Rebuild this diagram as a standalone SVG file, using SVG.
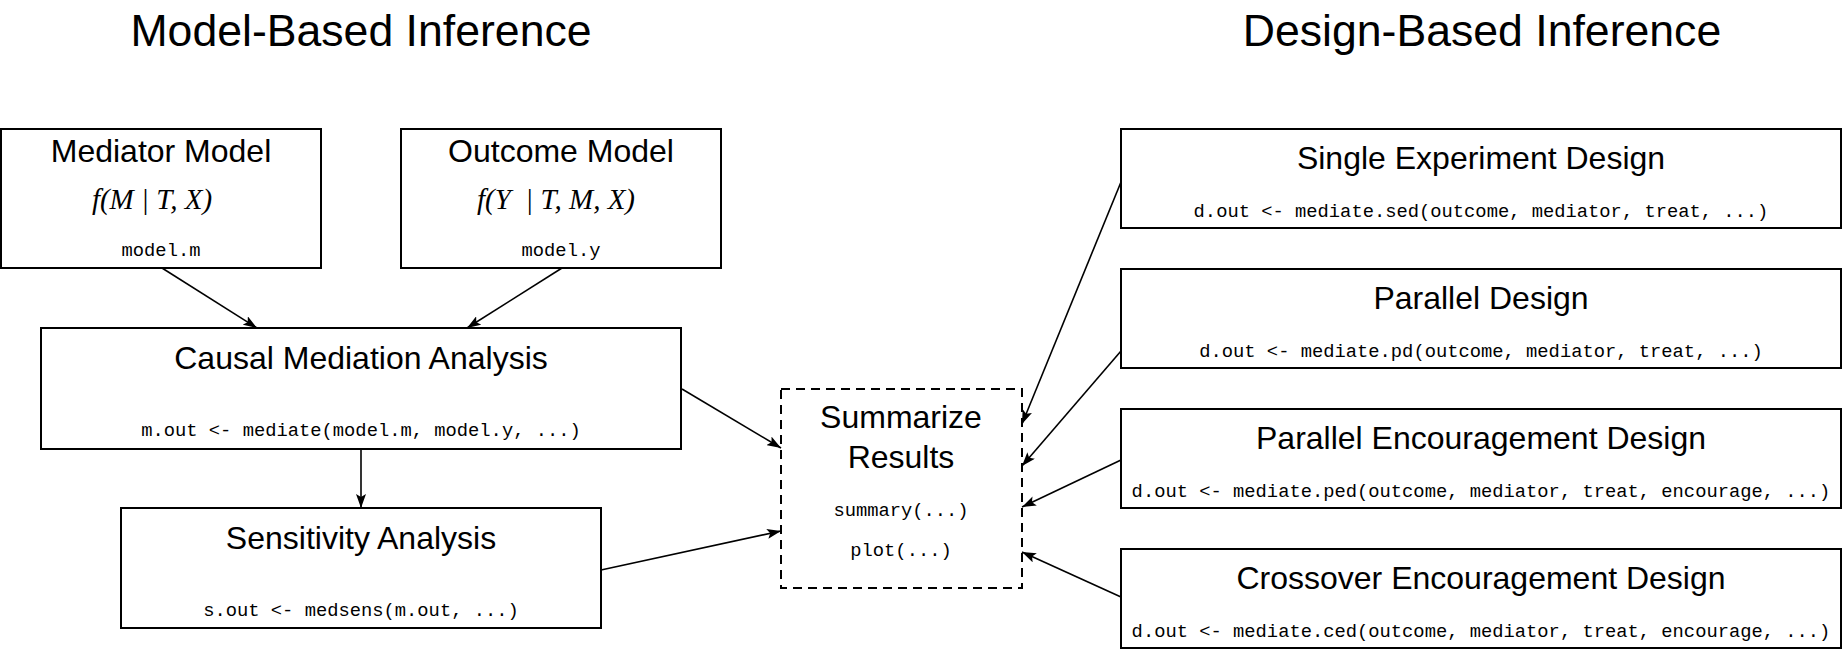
<svg xmlns="http://www.w3.org/2000/svg" width="1844" height="652" viewBox="0 0 1844 652">
<style>
.box{fill:#fff;stroke:#000;stroke-width:2}
.dash{fill:#fff;stroke:#000;stroke-width:2;stroke-dasharray:9,6}
.title{font-family:"Liberation Sans",Arial,sans-serif;font-size:44.6px;text-anchor:middle;fill:#000}
.h{font-family:"Liberation Sans",Arial,sans-serif;font-size:32px;text-anchor:middle;fill:#000}
.code{font-family:"Liberation Mono","DejaVu Sans Mono",monospace;font-size:18.8px;text-anchor:middle;fill:#000}
.math{font-family:"Liberation Serif","Times New Roman",serif;font-style:italic;font-size:29px;text-anchor:middle;fill:#000;white-space:pre}
.conn line{stroke:#000;stroke-width:1.6;marker-end:url(#ah)}
</style>
<defs>
<marker id="ah" viewBox="0 0 14 10" refX="14" refY="5" markerWidth="14" markerHeight="10" markerUnits="userSpaceOnUse" orient="auto">
<path d="M0,0 L14,5 L0,10 L3,5 Z" fill="#000"/>
</marker>
</defs>
<rect width="1844" height="652" fill="#fff"/>
<text class="title" x="361" y="46">Model-Based Inference</text>
<text class="title" x="1482" y="46">Design-Based Inference</text>

<g id="mediator-model">
<rect class="box" x="1" y="129" width="320" height="139"/>
<text class="h" x="161" y="162">Mediator Model</text>
<text class="math" x="152" y="209">f(M | T, X)</text>
<text class="code" x="161" y="256">model.m</text>
</g>
<g id="outcome-model">
<rect class="box" x="401" y="129" width="320" height="139"/>
<text class="h" x="561" y="162">Outcome Model</text>
<text class="math" x="556" y="209">f(Y  | T, M, X)</text>
<text class="code" x="561" y="256">model.y</text>
</g>
<g id="causal-mediation">
<rect class="box" x="41" y="328" width="640" height="121"/>
<text class="h" x="361" y="369">Causal Mediation Analysis</text>
<text class="code" x="361" y="436">m.out &lt;- mediate(model.m, model.y, ...)</text>
</g>
<g id="sensitivity">
<rect class="box" x="121" y="508" width="480" height="120"/>
<text class="h" x="361" y="549">Sensitivity Analysis</text>
<text class="code" x="361" y="616">s.out &lt;- medsens(m.out, ...)</text>
</g>
<g id="summarize">
<rect class="dash" x="781" y="389" width="241" height="199"/>
<text class="h" x="901" y="428">Summarize</text>
<text class="h" x="901" y="468">Results</text>
<text class="code" x="901" y="516">summary(...)</text>
<text class="code" x="901" y="556">plot(...)</text>
</g>
<g id="single-experiment">
<rect class="box" x="1121" y="129" width="720" height="99"/>
<text class="h" x="1481" y="169">Single Experiment Design</text>
<text class="code" x="1481" y="217">d.out &lt;- mediate.sed(outcome, mediator, treat, ...)</text>
</g>
<g id="parallel">
<rect class="box" x="1121" y="269" width="720" height="99"/>
<text class="h" x="1481" y="309">Parallel Design</text>
<text class="code" x="1481" y="357">d.out &lt;- mediate.pd(outcome, mediator, treat, ...)</text>
</g>
<g id="parallel-encouragement">
<rect class="box" x="1121" y="409" width="720" height="99"/>
<text class="h" x="1481" y="449">Parallel Encouragement Design</text>
<text class="code" x="1481" y="497">d.out &lt;- mediate.ped(outcome, mediator, treat, encourage, ...)</text>
</g>
<g id="crossover-encouragement">
<rect class="box" x="1121" y="549" width="720" height="99"/>
<text class="h" x="1481" y="589">Crossover Encouragement Design</text>
<text class="code" x="1481" y="637">d.out &lt;- mediate.ced(outcome, mediator, treat, encourage, ...)</text>
</g>

<g id="connectors" class="conn">
<line x1="162" y1="268" x2="257" y2="328"/>
<line x1="562" y1="268" x2="467" y2="328"/>
<line x1="361" y1="449" x2="361" y2="508"/>
<line x1="682" y1="389" x2="781" y2="448"/>
<line x1="601" y1="570" x2="781" y2="531"/>
<line x1="1121" y1="182" x2="1022" y2="424"/>
<line x1="1121" y1="351" x2="1022" y2="466"/>
<line x1="1121" y1="460" x2="1022" y2="507"/>
<line x1="1121" y1="597" x2="1022" y2="552"/>
</g>
</svg>
